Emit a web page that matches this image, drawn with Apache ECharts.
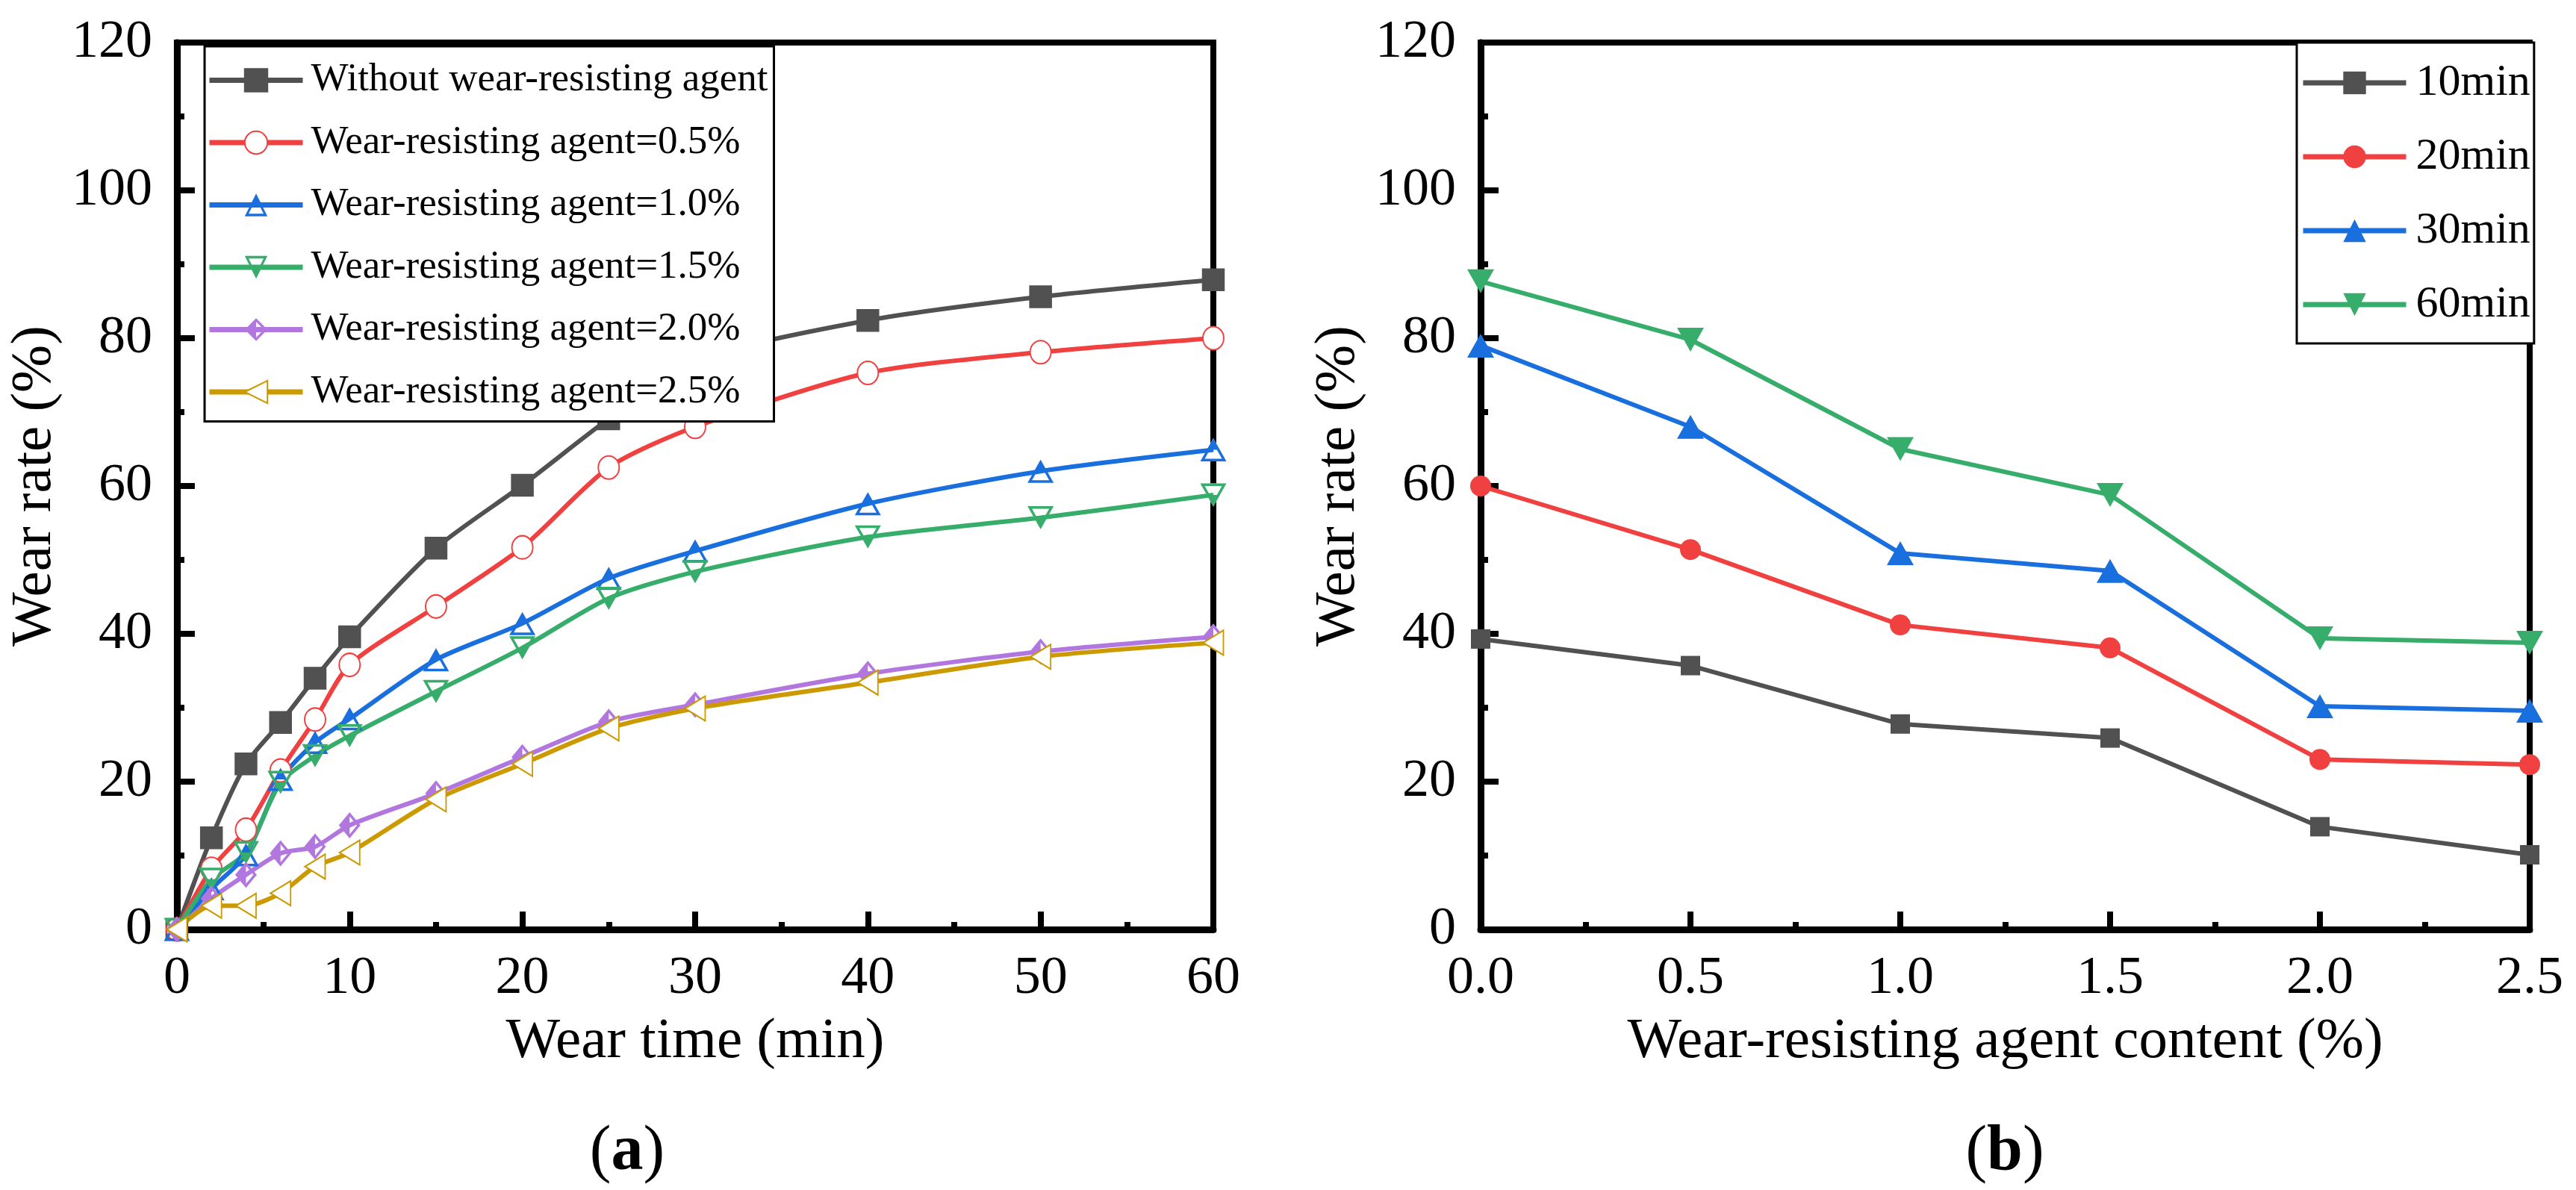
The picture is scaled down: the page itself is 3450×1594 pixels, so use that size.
<!DOCTYPE html>
<html>
<head>
<meta charset="utf-8">
<script src="https://cdn.jsdelivr.net/npm/echarts@6/dist/echarts.min.js"></script>
<style>html,body{margin:0;padding:0;background:#fff;} .c{width:1725px;height:1594px;float:left;}</style>
</head>
<body>
<div id="panelA" class="c"></div><div id="panelB" class="c"></div>
<script>
// ---- Panel (a): wear rate vs wear time ----
var timeMin = [0, 2, 4, 6, 8, 10, 15, 20, 25, 30, 40, 50, 60];
var rateNone = [0, 12.4, 22.4, 28, 34, 39.6, 51.6, 60.1, 69.1, 77, 82.4, 85.6, 87.9];
var rate05 = [0, 8.2, 13.5, 21.5, 28.4, 35.8, 43.7, 51.7, 62.5, 68, 75.3, 78.1, 80];
var rate10 = [0, 5.5, 10.1, 20.3, 25.3, 28.5, 36.5, 41.4, 47.5, 51.2, 57.6, 62, 64.9];
var rate15 = [0, 6.8, 10.4, 19.9, 23.5, 26.2, 32.2, 38.1, 44.8, 48.4, 53.1, 55.7, 58.8];
var rate20 = [0, 4.2, 7.4, 10.3, 11.2, 14.1, 18.4, 23.3, 28.1, 30.4, 34.6, 37.6, 39.6];
var rate25 = [0, 3.2, 3.2, 4.9, 8.5, 10.4, 17.6, 22.4, 27.2, 29.9, 33.4, 36.9, 38.8];
var namesA = ['Without wear-resisting agent', 'Wear-resisting agent=0.5%', 'Wear-resisting agent=1.0%',
              'Wear-resisting agent=1.5%', 'Wear-resisting agent=2.0%', 'Wear-resisting agent=2.5%'];

// ---- Panel (b): wear rate vs agent content ----
var content = [0, 0.5, 1.0, 1.5, 2.0, 2.5];
var r10min = [39.3, 35.7, 27.8, 25.9, 13.9, 10.1];
var r20min = [60, 51.4, 41.2, 38.1, 23, 22.3];
var r30min = [79, 68, 50.9, 48.5, 30.2, 29.6];
var r60min = [87.7, 79.8, 65, 58.8, 39.4, 38.8];
var namesB = ['10min', '20min', '30min', '60min'];

var palette = ['#515151', '#F14040', '#1A6FDF', '#37AD6B', '#B177DE', '#CC9900'];
var F = 'Liberation Serif';

function pairs(xs, ys) { return xs.map(function (x, i) { return [x, ys[i]]; }); }

// half-filled marker shapes (outer shape + counter-wound hole for the hollow half)
var triUpOuter = 'path://M17.5 0 L35 31 L0 31 Z';
var triUpHalf = 'path://M17.5 0 L35 31 L0 31 Z M12.75 15.5 L5.98 27.5 L29.02 27.5 L22.25 15.5 Z';
var triDnOuter = 'path://M0 0 L35 0 L17.5 31 Z';
var triDnHalf = 'path://M0 0 L35 0 L17.5 31 Z M12.75 15.5 L22.25 15.5 L29.02 3.5 L5.98 3.5 Z';
var diaOuter = 'path://M14.5 0 L29 17.5 L14.5 35 L0 17.5 Z';
var diaHalf = 'path://M14.5 0 L29 17.5 L14.5 35 L0 17.5 Z M14.5 5.49 L14.5 29.51 L24.45 17.5 Z';

var LW = 6;
var SMOOTH = 0.25;
var seriesA = [];

function simpleLine(name, data, color, symbol, size, extra) {
  var s = {
    name: name, type: 'line', data: data,
    smooth: SMOOTH,
    symbol: symbol, symbolSize: size, showSymbol: true,
    lineStyle: { color: color, width: LW },
    itemStyle: { color: color, borderColor: color, borderWidth: 3.5 },
    emphasis: { disabled: true }
  };
  if (extra) { for (var k in extra) s[k] = extra[k]; }
  return s;
}

function layeredLine(name, data, color, outer, half, size, key) {
  seriesA.push({
    name: '_line' + key, type: 'line', data: data,
    smooth: SMOOTH, showSymbol: false, symbol: 'none',
    lineStyle: { color: color, width: LW }, itemStyle: { color: color },
    emphasis: { disabled: true }, silent: true
  });
  seriesA.push({
    name: '_bg' + key, type: 'scatter', data: data,
    symbol: outer, symbolSize: size,
    itemStyle: { color: '#ffffff', opacity: 1 },
    emphasis: { disabled: true }, silent: true
  });
  seriesA.push({
    name: name, type: 'line', data: data,
    symbol: half, symbolSize: size, showSymbol: true,
    lineStyle: { color: color, width: 0, opacity: 0 },
    itemStyle: { color: color, borderWidth: 0, opacity: 1 },
    emphasis: { disabled: true }
  });
}

seriesA.push(simpleLine(namesA[0], pairs(timeMin, rateNone), palette[0], 'rect', 27));
seriesA.push(simpleLine(namesA[1], pairs(timeMin, rate05), palette[1], 'emptyCircle', [28, 31]));
layeredLine(namesA[2], pairs(timeMin, rate10), palette[2], triUpOuter, triUpHalf, [35, 31], 'b');
layeredLine(namesA[3], pairs(timeMin, rate15), palette[3], triDnOuter, triDnHalf, [35, 31], 'g');
layeredLine(namesA[4], pairs(timeMin, rate20), palette[4], diaOuter, diaHalf, [29, 35], 'p');
seriesA.push(simpleLine(namesA[5], pairs(timeMin, rate25), palette[5], 'emptyTriangle', [33, 27],
  { symbolRotate: 90, itemStyle: { color: palette[5], borderColor: palette[5], borderWidth: 4 } }));

var seriesB = [];
var bDefs = [
  [namesB[0], r10min, palette[0], 'rect', 26, 0],
  [namesB[1], r20min, palette[1], 'circle', 28, 0],
  [namesB[2], r30min, palette[2], 'triangle', [36, 32], 0],
  [namesB[3], r60min, palette[3], 'triangle', [36, 32], 180]
];
bDefs.forEach(function (d) {
  seriesB.push({
    name: d[0], type: 'line', data: pairs(content, d[1]),
    symbol: d[3], symbolSize: d[4], symbolRotate: d[5], showSymbol: true,
    lineStyle: { color: d[2], width: 6 }, itemStyle: { color: d[2] },
    emphasis: { disabled: true }
  });
});

function yAxisCfg(gap) {
  return {
    type: 'value', min: 0, max: 120, interval: 20,
    name: 'Wear rate (%)', nameLocation: 'middle', nameGap: gap,
    nameTextStyle: { fontFamily: F, fontSize: 77, color: '#000' },
    axisLine: { show: true, lineStyle: { color: '#000', width: 9 } },
    axisTick: { show: true, inside: true, length: 24, lineStyle: { color: '#000', width: 8 } },
    minorTick: { show: true, splitNumber: 2, length: 10, lineStyle: { color: '#000', width: 8 } },
    splitLine: { show: false },
    axisLabel: { fontFamily: F, fontSize: 72, color: '#000', margin: 33 }
  };
}

function xAxisCfg(min, max, interval, name, fmt) {
  return {
    type: 'value', min: min, max: max, interval: interval,
    name: name, nameLocation: 'middle', nameGap: 112,
    nameTextStyle: { fontFamily: F, fontSize: 77, color: '#000' },
    axisLine: { show: true, onZero: false, lineStyle: { color: '#000', width: 9 } },
    axisTick: { show: true, inside: true, length: 24, lineStyle: { color: '#000', width: 8 } },
    minorTick: { show: true, splitNumber: 2, length: 10, lineStyle: { color: '#000', width: 8 } },
    splitLine: { show: false },
    axisLabel: { fontFamily: F, fontSize: 72, color: '#000', margin: 30, formatter: fmt }
  };
}

function caption(x, letter) {
  return [{
    type: 'text', x: x, y: 1544,
    style: {
      text: '{p|(}{b|' + letter + '}{p|)}', align: 'center', verticalAlign: 'middle',
      fontFamily: F, fontSize: 86,
      rich: {
        p: { fontFamily: F, fontSize: 86, fill: '#000' },
        b: { fontFamily: F, fontSize: 86, fontWeight: 'bold', fill: '#000' }
      }
    }
  }];
}

var optionA = {
  animation: false,
  grid: { left: 236, top: 57, width: 1389, height: 1188, show: true, borderColor: '#000', borderWidth: 8 },
  xAxis: xAxisCfg(0, 60, 10, 'Wear time (min)', function (v) { return String(v); }),
  yAxis: yAxisCfg(150),
  legend: {
    orient: 'vertical', left: 274, top: 62,
    data: namesA,
    itemWidth: 125, itemHeight: 38, itemGap: 30.5,
    padding: [19, 8, 13, 3],
    borderColor: '#000', borderWidth: 3, backgroundColor: '#ffffff',
    lineStyle: { width: 7, opacity: 1 },
    textStyle: { fontFamily: F, fontSize: 53, color: '#000', lineHeight: 38, padding: [0, 0, 0, 6] },
    selectedMode: false, z: 10
  },
  graphic: caption(840, 'a'),
  series: seriesA
};

var optionB = {
  animation: false,
  grid: { left: 258, top: 57, width: 1405, height: 1188, show: true, borderColor: '#000', borderWidth: 8 },
  xAxis: xAxisCfg(0, 2.5, 0.5, 'Wear-resisting agent content (%)', function (v) { return v.toFixed(1); }),
  yAxis: yAxisCfg(130),
  legend: {
    orient: 'vertical', left: 1351, top: 57,
    data: namesB,
    itemWidth: 138, itemHeight: 38, itemGap: 39,
    padding: [24, 5, 22, 5],
    borderColor: '#000', borderWidth: 3, backgroundColor: '#ffffff',
    lineStyle: { width: 7, opacity: 1 },
    textStyle: { fontFamily: F, fontSize: 60, color: '#000', lineHeight: 38, padding: [0, 0, 0, 8] },
    selectedMode: false, z: 10
  },
  graphic: caption(960, 'b'),
  series: seriesB
};

echarts.init(document.getElementById('panelA')).setOption(optionA);
echarts.init(document.getElementById('panelB')).setOption(optionB);
</script>
</body>
</html>
